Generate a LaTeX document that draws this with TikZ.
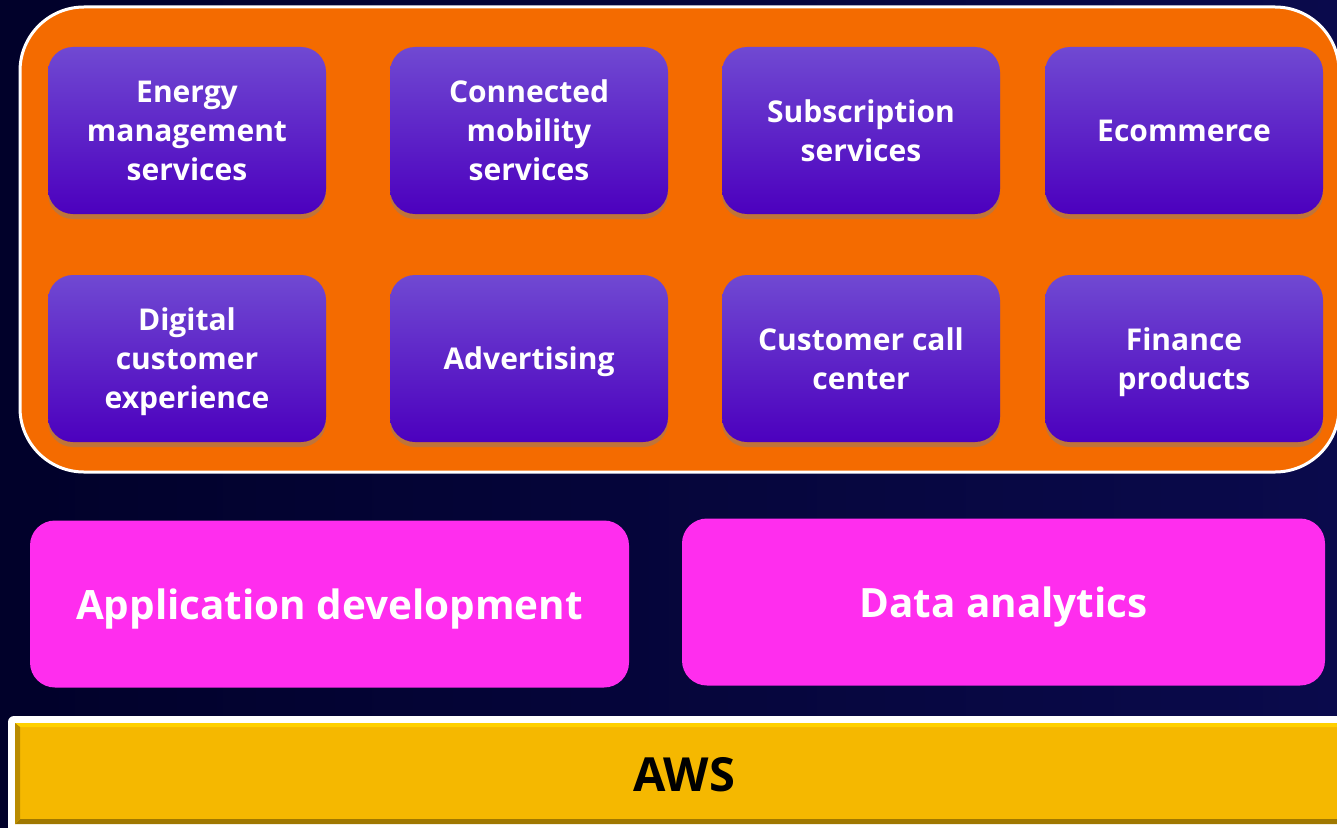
\documentclass[tikz,border=0pt]{standalone}
\usepackage{fontspec}
\setmainfont{Open Sans}
\usepackage{tikz}
\usetikzlibrary{shadows}
\definecolor{awsnavy}{HTML}{01012A}
\definecolor{awsnavyright}{HTML}{0A0A4C}
\definecolor{awsorange}{HTML}{F46B00}
\definecolor{awspurpletop}{HTML}{7049D2}
\definecolor{awspurplemid}{HTML}{5208C5}
\definecolor{awspurplebottom}{HTML}{4C00BE}
\definecolor{awspink}{HTML}{FF2DEE}
\definecolor{awsyellow}{HTML}{F5B800}
\definecolor{awsyellowlight}{HTML}{FFD000}
\definecolor{awsyellowdark}{HTML}{A07800}

\tikzset{
    usecase/.style={rounded corners=12.5pt, minimum width=139pt, minimum height=83.5pt, text depth=0pt,
        top color=awspurpletop, middle color=awspurplemid, bottom color=awspurplebottom,
        drop shadow={opacity=0.45, shadow xshift=0pt, shadow yshift=-2.5pt},
        text=white, align=center, font=\fontsize{15}{19.5}\selectfont\bfseries},
    capability/.style={rounded corners=12.5pt, fill=awspink, minimum height=83.5pt, text depth=0pt,
        text=white, font=\fontsize{20.2}{24}\selectfont\bfseries}
}

\begin{document}
\begin{tikzpicture}[x=0.5pt, y=0.5pt]
    \useasboundingbox (0, 0) rectangle (1337, 827);
    % Background
    \shade[left color=awsnavy, right color=awsnavyright] (0, 0) rectangle (1337, 827);

    % Use cases panel
    \draw[white, line width=1.5pt, fill=awsorange, rounded corners=32pt] (20, 355) rectangle (1339, 820);

    \node[usecase] (energy) at (187, 696.5) {Energy\\management\\services};
    \node[usecase] (mobility) at (529, 696.5) {Connected\\mobility\\services};
    \node[usecase] (subscription) at (861, 696.5) {Subscription\\services};
    \node[usecase] (ecommerce) at (1184, 696.5) {Ecommerce};

    \node[usecase] (digital) at (187, 468.5) {Digital\\customer\\experience};
    \node[usecase] (advertising) at (529, 468.5) {Advertising};
    \node[usecase] (callcenter) at (861, 468.5) {Customer call\\center};
    \node[usecase] (finance) at (1184, 468.5) {Finance\\products};

    % Capabilities
    \node[capability, minimum width=299.5pt] (appdev) at (329.5, 223) {Application development};
    \node[capability, minimum width=321.5pt] (analytics) at (1003.5, 225) {Data analytics};

    % AWS foundation
    \fill[white, rounded corners=3pt] (8, -10) rectangle (1350, 111);
    \fill[awsyellow] (15, 3) rectangle (1350, 104);
    \fill[awsyellowlight] (15, 104) -- (1350, 104) -- (1350, 100) -- (19, 100) -- cycle;
    \fill[awsyellowdark] (15, 3) -- (1350, 3) -- (1350, 8) -- (20, 8) -- cycle;
    \fill[awsyellowdark!70!awsyellow] (15, 3) -- (20, 8) -- (20, 100) -- (15, 104) -- cycle;
    \node[font=\fontsize{23.5}{28}\selectfont\bfseries, text=black] (aws) at (684, 52) {AWS};
\end{tikzpicture}
\end{document}
